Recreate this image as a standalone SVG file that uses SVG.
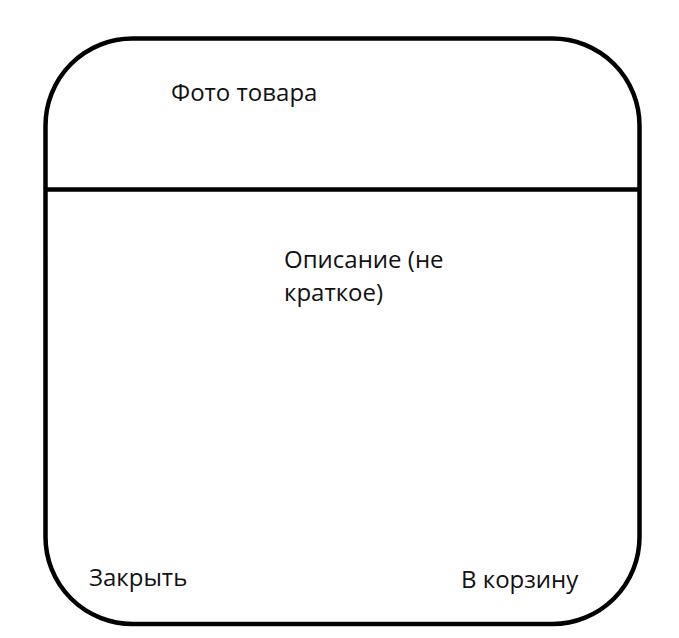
<svg xmlns="http://www.w3.org/2000/svg" width="679" height="638" viewBox="0 0 679 638">
<style>
.t{font-family:"Open Sans","Noto Sans",sans-serif;font-size:24px;fill:#111}
.s{fill:none;stroke:#000;stroke-width:4.5}
</style>
<rect width="679" height="638" fill="#fff"/>
<g id="card">
<rect class="s" x="45.5" y="38.5" width="594" height="585.5" rx="87" ry="87"/>
</g>
<g id="connectors">
<line class="s" x1="45.5" y1="189.5" x2="639.5" y2="189.5"/>
</g>
<g id="photo"><text class="t" x="171" y="101">Фото товара</text></g>
<g id="description"><text class="t" x="284" y="268">Описание (не</text><text class="t" x="284" y="301">краткое)</text></g>
<g id="close"><text class="t" x="89" y="586">Закрыть</text></g>
<g id="cart"><text class="t" x="461" y="588">В корзину</text></g>
</svg>
